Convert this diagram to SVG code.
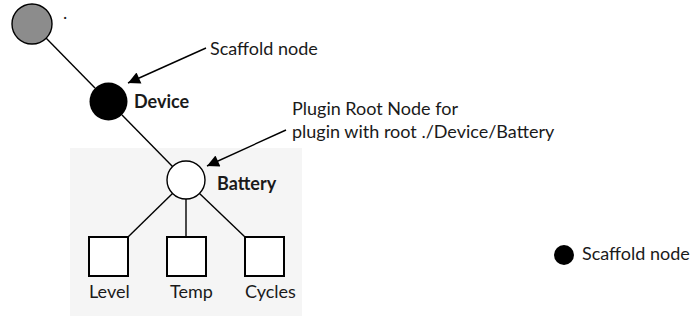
<svg xmlns="http://www.w3.org/2000/svg" width="694" height="321" viewBox="0 0 694 321">
<style>
text{font-family:"Lato","Liberation Sans",sans-serif;font-size:18px;fill:#1a1a1a}
.b{font-weight:bold}
.ln{stroke:#000;stroke-width:1.4;fill:none}
.sq{fill:#fff;stroke:#000;stroke-width:2}
</style>
<defs>
<marker id="ah" viewBox="0 0 10 10" refX="10" refY="5" markerWidth="15" markerHeight="12" markerUnits="userSpaceOnUse" orient="auto">
<path d="M0,0 L10,5 L0,10 z" fill="#000"/>
</marker>
</defs>
<rect x="70" y="148" width="232" height="168" fill="#f5f5f5"/>
<g id="connectors">
<line class="ln" x1="46" y1="38" x2="95" y2="88"/>
<line class="ln" x1="122" y1="115" x2="173" y2="167"/>
<line class="ln" x1="173" y1="193" x2="128" y2="237"/>
<line class="ln" x1="186" y1="199" x2="186" y2="237"/>
<line class="ln" x1="199" y1="193" x2="245" y2="237"/>
<line class="ln" x1="206" y1="48" x2="128" y2="83" marker-end="url(#ah)"/>
<line class="ln" x1="286" y1="130" x2="207" y2="166" marker-end="url(#ah)"/>
</g>
<g id="root"><circle cx="32" cy="24" r="20" fill="#8c8c8c" stroke="#000" stroke-width="1.4"/><text x="63" y="19">.</text></g>
<g id="device"><circle cx="108.5" cy="101.5" r="19" fill="#000"/><text class="b" x="134" y="108">Device</text></g>
<g id="battery"><circle cx="186" cy="180" r="19" fill="#fff" stroke="#000" stroke-width="1.4"/><text class="b" x="217" y="190">Battery</text></g>
<g id="level"><rect class="sq" x="89" y="237" width="39" height="39"/><text x="89" y="298">Level</text></g>
<g id="temp"><rect class="sq" x="167" y="237" width="39" height="39"/><text x="170" y="298">Temp</text></g>
<g id="cycles"><rect class="sq" x="245" y="237" width="39" height="39"/><text x="245" y="298">Cycles</text></g>
<g id="scaffold-label"><text x="210" y="55">Scaffold node</text></g>
<g id="plugin-label"><text x="292" y="115">Plugin Root Node for</text><text x="292" y="138">plugin with root ./Device/Battery</text></g>
<g id="legend"><circle cx="564" cy="255" r="10" fill="#000"/><text x="582" y="260">Scaffold node</text></g>
</svg>
